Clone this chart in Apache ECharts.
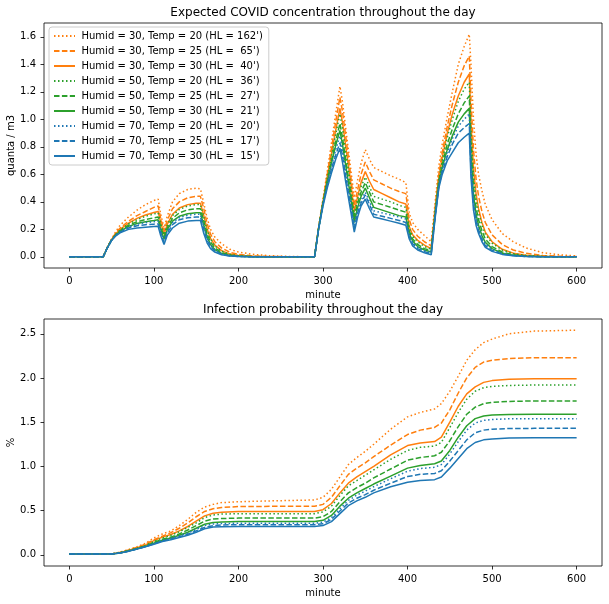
<!DOCTYPE html>
<html>
<head>
<meta charset="utf-8">
<script src="https://cdn.jsdelivr.net/npm/echarts@6/dist/echarts.min.js"></script>
<style>
  html, body { margin: 0; padding: 0; background: #fff; }
  #chart { width: 609px; height: 604px; }
</style>
</head>
<body>
<div id="chart"></div>
<script>
// ---- top panel: expected concentration (quanta / m3) ----
var concMinutes = [0, 40, 45, 50, 55, 60, 70, 80, 90, 100, 105,
  108, 112, 116, 122, 130, 140, 150,
  155, 159, 163, 167, 172, 180, 190, 200, 215, 235, 260, 290,
  295, 300, 305, 310, 315, 320,
  323, 327, 332, 337,
  341, 345, 350,
  355, 360, 370, 380, 390, 398,
  402, 406, 412, 420, 428,
  433, 437, 441, 447, 453, 460, 467, 473,
  475, 478, 481, 484, 488, 492, 500, 512, 525, 540, 560, 580, 600];

var conc_h30_t20 = [0, 0, 0.07, 0.13, 0.185, 0.23, 0.29, 0.34, 0.38, 0.41, 0.42,
  0.31, 0.21, 0.30, 0.40, 0.46, 0.49, 0.50,
  0.495, 0.39, 0.28, 0.20, 0.145, 0.095, 0.055, 0.035, 0.02, 0.009, 0.003, 0,
  0.22, 0.42, 0.62, 0.83, 1.04, 1.24,
  1.13, 0.93, 0.68, 0.43,
  0.56, 0.68, 0.78,
  0.71, 0.65, 0.62, 0.59, 0.565, 0.54,
  0.32, 0.25, 0.20, 0.155, 0.11,
  0.42, 0.66, 0.82, 1.02, 1.20, 1.40, 1.53, 1.62,
  1.40, 1.00, 0.75, 0.60, 0.48, 0.38, 0.27, 0.17, 0.11, 0.065, 0.03, 0.015, 0.007];
var conc_h30_t25 = [0, 0, 0.07, 0.128, 0.175, 0.21, 0.26, 0.30, 0.33, 0.36, 0.37,
  0.28, 0.19, 0.27, 0.35, 0.40, 0.43, 0.44,
  0.44, 0.35, 0.24, 0.165, 0.11, 0.065, 0.033, 0.018, 0.008, 0.003, 0.001, 0,
  0.22, 0.41, 0.60, 0.79, 0.98, 1.16,
  1.06, 0.87, 0.63, 0.37,
  0.49, 0.60, 0.69,
  0.62, 0.56, 0.53, 0.50, 0.475, 0.46,
  0.27, 0.20, 0.15, 0.11, 0.08,
  0.38, 0.60, 0.76, 0.95, 1.11, 1.27, 1.39, 1.46,
  1.15, 0.78, 0.57, 0.44, 0.33, 0.25, 0.16, 0.09, 0.05, 0.026, 0.01, 0.004, 0.002];
var conc_h30_t30 = [0, 0, 0.07, 0.126, 0.168, 0.20, 0.245, 0.28, 0.305, 0.322, 0.33,
  0.25, 0.165, 0.24, 0.31, 0.355, 0.38, 0.39,
  0.39, 0.30, 0.20, 0.135, 0.085, 0.045, 0.02, 0.01, 0.004, 0.001, 0, 0,
  0.22, 0.40, 0.58, 0.75, 0.92, 1.08,
  0.98, 0.80, 0.58, 0.33,
  0.44, 0.54, 0.62,
  0.55, 0.49, 0.46, 0.43, 0.40, 0.385,
  0.22, 0.16, 0.12, 0.085, 0.06,
  0.36, 0.57, 0.72, 0.90, 1.04, 1.17, 1.27, 1.33,
  0.98, 0.64, 0.46, 0.35, 0.25, 0.18, 0.11, 0.055, 0.027, 0.012, 0.004, 0.001, 0];
var conc_h50_t20 = [0, 0, 0.07, 0.125, 0.165, 0.195, 0.24, 0.27, 0.295, 0.312, 0.32,
  0.24, 0.16, 0.235, 0.30, 0.345, 0.37, 0.38,
  0.38, 0.29, 0.19, 0.13, 0.08, 0.042, 0.018, 0.009, 0.003, 0.001, 0, 0,
  0.22, 0.40, 0.57, 0.73, 0.89, 1.04,
  0.94, 0.76, 0.55, 0.31,
  0.42, 0.51, 0.58,
  0.51, 0.44, 0.42, 0.40, 0.375, 0.36,
  0.21, 0.15, 0.11, 0.075, 0.055,
  0.35, 0.56, 0.70, 0.87, 1.00, 1.13, 1.22, 1.27,
  0.92, 0.59, 0.42, 0.32, 0.23, 0.165, 0.10, 0.05, 0.024, 0.01, 0.003, 0.001, 0];
var conc_h50_t25 = [0, 0, 0.068, 0.124, 0.162, 0.19, 0.23, 0.255, 0.272, 0.284, 0.29,
  0.22, 0.145, 0.215, 0.28, 0.32, 0.342, 0.35,
  0.35, 0.26, 0.165, 0.11, 0.065, 0.032, 0.013, 0.006, 0.002, 0, 0, 0,
  0.215, 0.39, 0.55, 0.70, 0.84, 0.97,
  0.87, 0.70, 0.50, 0.28,
  0.39, 0.47, 0.54,
  0.47, 0.40, 0.38, 0.36, 0.34, 0.325,
  0.19, 0.13, 0.09, 0.06, 0.045,
  0.34, 0.55, 0.67, 0.82, 0.93, 1.04, 1.12, 1.17,
  0.82, 0.51, 0.36, 0.27, 0.19, 0.13, 0.075, 0.035, 0.016, 0.006, 0.002, 0, 0];
var conc_h50_t30 = [0, 0, 0.068, 0.123, 0.16, 0.186, 0.222, 0.243, 0.256, 0.265, 0.27,
  0.20, 0.13, 0.20, 0.26, 0.295, 0.313, 0.32,
  0.32, 0.23, 0.145, 0.09, 0.053, 0.025, 0.01, 0.004, 0.001, 0, 0, 0,
  0.215, 0.39, 0.54, 0.68, 0.81, 0.92,
  0.82, 0.66, 0.46, 0.25,
  0.36, 0.44, 0.50,
  0.43, 0.36, 0.34, 0.32, 0.30, 0.29,
  0.17, 0.115, 0.075, 0.05, 0.035,
  0.33, 0.53, 0.65, 0.78, 0.88, 0.98, 1.04, 1.08,
  0.74, 0.45, 0.31, 0.23, 0.155, 0.105, 0.06, 0.027, 0.012, 0.004, 0.001, 0, 0];
var conc_h70_t20 = [0, 0, 0.067, 0.122, 0.158, 0.184, 0.218, 0.237, 0.249, 0.256, 0.26,
  0.19, 0.12, 0.19, 0.25, 0.285, 0.303, 0.31,
  0.31, 0.22, 0.135, 0.085, 0.05, 0.022, 0.009, 0.004, 0.001, 0, 0, 0,
  0.21, 0.38, 0.53, 0.66, 0.78, 0.88,
  0.78, 0.62, 0.43, 0.23,
  0.34, 0.41, 0.47,
  0.40, 0.335, 0.32, 0.305, 0.29, 0.275,
  0.16, 0.105, 0.07, 0.045, 0.03,
  0.32, 0.52, 0.64, 0.76, 0.86, 0.95, 1.00, 1.04,
  0.70, 0.42, 0.29, 0.21, 0.14, 0.095, 0.055, 0.024, 0.011, 0.004, 0.001, 0, 0];
var conc_h70_t25 = [0, 0, 0.067, 0.121, 0.156, 0.18, 0.21, 0.226, 0.234, 0.238, 0.24,
  0.175, 0.105, 0.175, 0.235, 0.27, 0.285, 0.29,
  0.29, 0.20, 0.12, 0.075, 0.043, 0.019, 0.007, 0.003, 0.001, 0, 0, 0,
  0.21, 0.38, 0.52, 0.64, 0.74, 0.83,
  0.74, 0.58, 0.40, 0.21,
  0.32, 0.39, 0.45,
  0.38, 0.31, 0.295, 0.28, 0.265, 0.25,
  0.145, 0.095, 0.06, 0.038, 0.022,
  0.31, 0.51, 0.62, 0.73, 0.82, 0.90, 0.94, 0.97,
  0.64, 0.38, 0.26, 0.19, 0.125, 0.082, 0.047, 0.021, 0.009, 0.003, 0.001, 0, 0];
var conc_h70_t30 = [0, 0, 0.066, 0.12, 0.153, 0.175, 0.20, 0.21, 0.216, 0.22, 0.222,
  0.155, 0.09, 0.16, 0.21, 0.245, 0.26, 0.265,
  0.265, 0.17, 0.10, 0.06, 0.035, 0.015, 0.006, 0.003, 0.001, 0, 0, 0,
  0.21, 0.37, 0.50, 0.61, 0.71, 0.79,
  0.69, 0.54, 0.36, 0.18,
  0.29, 0.37, 0.42,
  0.35, 0.29, 0.275, 0.26, 0.245, 0.23,
  0.13, 0.08, 0.05, 0.03, 0.015,
  0.30, 0.50, 0.60, 0.70, 0.76, 0.83, 0.87, 0.90,
  0.58, 0.34, 0.23, 0.17, 0.11, 0.07, 0.04, 0.018, 0.008, 0.003, 0.001, 0, 0];

// ---- bottom panel: infection probability (%) ----
var probMinutes = [0, 50, 60, 70, 80, 90, 100, 110, 120, 130, 140, 150,
  160, 170, 180, 200, 240, 290, 300, 310, 320, 330, 340, 350,
  360, 380, 400, 415, 432, 440, 450, 460, 470, 480, 490, 500,
  520, 550, 600];

var prob_h30_t20 = [0.01, 0.01, 0.03, 0.06, 0.09, 0.13, 0.19, 0.235, 0.27, 0.33, 0.40, 0.48,
  0.54, 0.57, 0.59, 0.60, 0.61, 0.62, 0.65, 0.74, 0.88, 1.02, 1.10, 1.17,
  1.25, 1.42, 1.56, 1.61, 1.65, 1.71, 1.85, 2.02, 2.20, 2.32, 2.40, 2.44,
  2.50, 2.53, 2.54];
var prob_h30_t25 = [0.01, 0.01, 0.028, 0.055, 0.085, 0.12, 0.17, 0.21, 0.25, 0.30, 0.36, 0.43,
  0.49, 0.52, 0.535, 0.545, 0.548, 0.55, 0.57, 0.65, 0.78, 0.91, 0.98, 1.04,
  1.11, 1.24, 1.36, 1.41, 1.44, 1.49, 1.64, 1.83, 2.00, 2.12, 2.18, 2.20,
  2.22, 2.23, 2.23];
var prob_h30_t30 = [0.01, 0.01, 0.025, 0.05, 0.08, 0.11, 0.16, 0.20, 0.23, 0.27, 0.32, 0.38,
  0.44, 0.47, 0.48, 0.49, 0.49, 0.49, 0.51, 0.58, 0.70, 0.81, 0.88, 0.94,
  1.00, 1.13, 1.235, 1.265, 1.28, 1.33, 1.50, 1.68, 1.82, 1.90, 1.95, 1.97,
  1.985, 1.99, 1.99];
var prob_h50_t20 = [0.01, 0.01, 0.024, 0.048, 0.075, 0.105, 0.15, 0.19, 0.22, 0.26, 0.31, 0.36,
  0.42, 0.45, 0.46, 0.465, 0.465, 0.465, 0.485, 0.55, 0.67, 0.78, 0.84, 0.90,
  0.96, 1.08, 1.18, 1.215, 1.23, 1.27, 1.44, 1.61, 1.76, 1.85, 1.89, 1.905,
  1.915, 1.92, 1.92];
var prob_h50_t25 = [0.01, 0.01, 0.022, 0.045, 0.07, 0.10, 0.14, 0.175, 0.20, 0.235, 0.28, 0.33,
  0.38, 0.405, 0.41, 0.415, 0.415, 0.415, 0.43, 0.49, 0.60, 0.70, 0.76, 0.81,
  0.87, 0.97, 1.07, 1.10, 1.12, 1.16, 1.29, 1.45, 1.59, 1.67, 1.71, 1.725,
  1.735, 1.74, 1.74];
var prob_h50_t30 = [0.01, 0.01, 0.021, 0.043, 0.068, 0.095, 0.13, 0.165, 0.19, 0.22, 0.255, 0.30,
  0.345, 0.365, 0.372, 0.376, 0.376, 0.376, 0.39, 0.445, 0.55, 0.64, 0.70, 0.75,
  0.80, 0.89, 0.98, 1.01, 1.03, 1.06, 1.18, 1.33, 1.46, 1.54, 1.57, 1.58,
  1.588, 1.59, 1.59];
var prob_h70_t20 = [0.01, 0.01, 0.021, 0.042, 0.067, 0.093, 0.127, 0.16, 0.185, 0.213, 0.245, 0.285,
  0.33, 0.348, 0.354, 0.356, 0.356, 0.356, 0.37, 0.42, 0.52, 0.615, 0.675, 0.72,
  0.77, 0.86, 0.945, 0.975, 0.99, 1.02, 1.14, 1.28, 1.41, 1.49, 1.52, 1.53,
  1.538, 1.54, 1.54];
var prob_h70_t25 = [0.01, 0.01, 0.02, 0.041, 0.066, 0.091, 0.123, 0.155, 0.178, 0.204, 0.232, 0.27,
  0.31, 0.33, 0.337, 0.34, 0.34, 0.34, 0.35, 0.40, 0.495, 0.585, 0.64, 0.68,
  0.73, 0.81, 0.885, 0.91, 0.92, 0.95, 1.06, 1.18, 1.30, 1.38, 1.41, 1.42,
  1.428, 1.43, 1.43];
var prob_h70_t30 = [0.01, 0.01, 0.02, 0.04, 0.065, 0.09, 0.12, 0.15, 0.17, 0.195, 0.22, 0.255,
  0.295, 0.313, 0.318, 0.32, 0.32, 0.32, 0.33, 0.375, 0.465, 0.555, 0.61, 0.65,
  0.70, 0.77, 0.82, 0.84, 0.85, 0.88, 0.98, 1.09, 1.20, 1.27, 1.30, 1.31,
  1.32, 1.325, 1.325];

var seriesNames = [
  "Humid = 30, Temp = 20 (HL = 162')",
  "Humid = 30, Temp = 25 (HL =  65')",
  "Humid = 30, Temp = 30 (HL =  40')",
  "Humid = 50, Temp = 20 (HL =  36')",
  "Humid = 50, Temp = 25 (HL =  27')",
  "Humid = 50, Temp = 30 (HL =  21')",
  "Humid = 70, Temp = 20 (HL =  20')",
  "Humid = 70, Temp = 25 (HL =  17')",
  "Humid = 70, Temp = 30 (HL =  15')"
];
var xTicks = [0, 100, 200, 300, 400, 500, 600];
var concTicks = [0, 0.2, 0.4, 0.6, 0.8, 1.0, 1.2, 1.4, 1.6];
var probTicks = [0, 0.5, 1.0, 1.5, 2.0, 2.5];

var concList = [conc_h30_t20, conc_h30_t25, conc_h30_t30, conc_h50_t20, conc_h50_t25,
  conc_h50_t30, conc_h70_t20, conc_h70_t25, conc_h70_t30];
var probList = [prob_h30_t20, prob_h30_t25, prob_h30_t30, prob_h50_t20, prob_h50_t25,
  prob_h50_t30, prob_h70_t20, prob_h70_t25, prob_h70_t30];

// humidity -> colour, temperature -> line style
var humidColor = ['#ff7f0e', '#2ca02c', '#1f77b4'];
var tempDash = [[1.5, 2.5], [5.5, 2.4], 'solid'];

var font = 'DejaVu Sans';
var chart = echarts.init(document.getElementById('chart'), null, { renderer: 'canvas' });

function pairs(xs, ys) {
  return xs.map(function (x, i) { return [x, ys[i]]; });
}

function makeLine(i, data, axisIdx) {
  var c = humidColor[Math.floor(i / 3)];
  return {
    type: 'line',
    name: seriesNames[i],
    xAxisIndex: axisIdx,
    yAxisIndex: axisIdx,
    data: data,
    symbol: 'none',
    showSymbol: false,
    silent: true,
    animation: false,
    itemStyle: { color: c },
    lineStyle: { color: c, width: 1.5, type: tempDash[i % 3] }
  };
}

function xAxis(idx) {
  return {
    type: 'value', gridIndex: idx, min: -30, max: 630,
    name: 'minute', nameLocation: 'middle', nameGap: 22, nameMoveOverlap: false,
    nameTextStyle: { fontFamily: font, fontSize: 10, color: '#000' },
    axisLine: { show: false, onZero: false },
    axisTick: { show: true, length: 3.5, customValues: xTicks, lineStyle: { color: '#000', width: 0.8 } },
    axisLabel: { customValues: xTicks, margin: 8, fontFamily: font, fontSize: 10, color: '#000' },
    splitLine: { show: false }
  };
}

function yAxis(idx, name, lo, hi, ticks, gap) {
  return {
    type: 'value', gridIndex: idx, min: lo, max: hi,
    name: name, nameLocation: 'middle', nameRotate: 90, nameGap: gap, nameMoveOverlap: false,
    nameTextStyle: { fontFamily: font, fontSize: 10, color: '#000' },
    axisLine: { show: false, onZero: false },
    axisTick: { show: true, length: 3.5, customValues: ticks, lineStyle: { color: '#000', width: 0.8 } },
    axisLabel: {
      customValues: ticks, margin: 8, fontFamily: font, fontSize: 10, color: '#000',
      formatter: function (v) { return v.toFixed(1); }
    },
    splitLine: { show: false }
  };
}

var series = [];
for (var i = 0; i < 9; i++) series.push(makeLine(i, pairs(concMinutes, concList[i]), 0));
for (var j = 0; j < 9; j++) series.push(makeLine(j, pairs(probMinutes, probList[j]), 1));

chart.setOption({
  backgroundColor: '#ffffff',
  animation: false,
  title: [
    {
      text: 'Expected COVID concentration throughout the day',
      left: 323, top: 7, textAlign: 'center', padding: 0,
      textStyle: { fontFamily: font, fontSize: 12, fontWeight: 'normal', color: '#000' }
    },
    {
      text: 'Infection probability throughout the day',
      left: 323, top: 304, textAlign: 'center', padding: 0,
      textStyle: { fontFamily: font, fontSize: 12, fontWeight: 'normal', color: '#000' }
    }
  ],
  legend: {
    data: seriesNames,
    orient: 'vertical',
    left: 49, top: 27,
    itemWidth: 21, itemHeight: 10, itemGap: 5,
    padding: [4, 6, 4, 4],
    backgroundColor: 'rgba(255,255,255,0.8)',
    borderColor: '#cccccc', borderWidth: 1, borderRadius: 3,
    selectedMode: false,
    itemStyle: { opacity: 0 },
    textStyle: { fontFamily: font, fontSize: 10, color: '#000', padding: [0, 0, 0, 1.5] }
  },
  grid: [
    { left: 44, right: 7, top: 23, height: 245, show: true, borderColor: '#000', borderWidth: 0.8,
      containLabel: false, outerBoundsMode: 'none' },
    { left: 44, right: 7, top: 319, height: 247, show: true, borderColor: '#000', borderWidth: 0.8,
      containLabel: false, outerBoundsMode: 'none' }
  ],
  xAxis: [xAxis(0), xAxis(1)],
  yAxis: [
    yAxis(0, 'quanta / m3', -0.081, 1.701, concTicks, 28),
    yAxis(1, '%', -0.127, 2.667, probTicks, 28)
  ],
  series: series
});
</script>
</body>
</html>
